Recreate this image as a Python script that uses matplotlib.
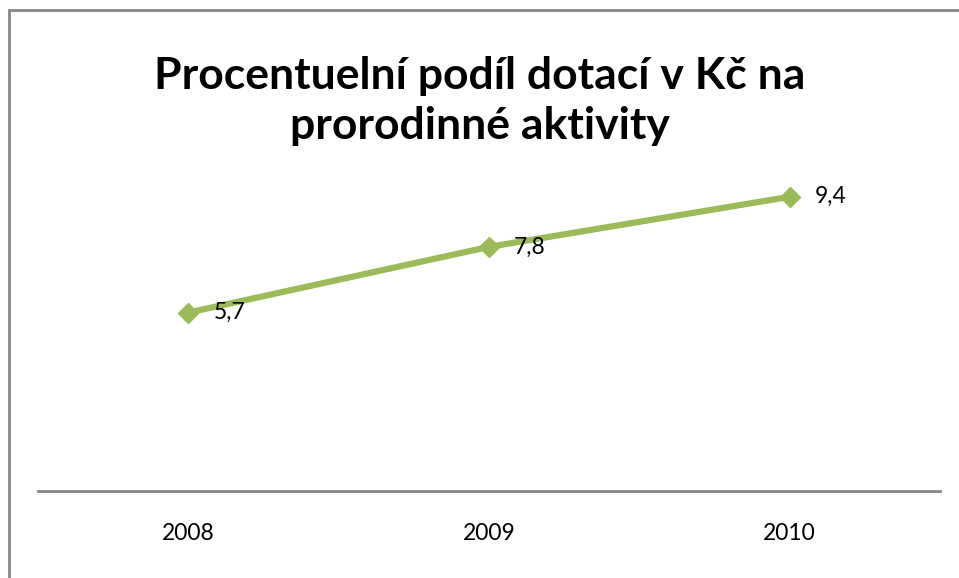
import matplotlib.pyplot as plt
from matplotlib.patches import Rectangle

years = ['2008', '2009', '2010']
podil = [5.7, 7.8, 9.4]
popisky = ['5,7', '7,8', '9,4']

plt.rcParams['font.family'] = ['Lato', 'DejaVu Sans']

fig = plt.figure(figsize=(9.59, 5.78), dpi=100)
ax = fig.add_axes([38/959, 1-491/578, 902/959, 313/578])

x = range(len(years))
ax.plot(x, podil, color='#9BBB59', linewidth=4.5, marker='D', markersize=10,
        solid_capstyle='round')
for xi, v, s in zip(x, podil, popisky):
    ax.annotate(s, (xi, v), xytext=(18, 0), textcoords='offset points',
                ha='left', va='center', fontsize=16.5, color='black')

ax.set_xlim(-0.5, 2.5)
ax.set_ylim(0, 10)
ax.set_xticks(list(x))
ax.set_xticklabels(years, fontsize=16.5)
ax.set_yticks([])
ax.tick_params(axis='x', length=0, pad=23)
for side in ['top', 'right', 'left']:
    ax.spines[side].set_visible(False)
ax.spines['bottom'].set_color('#868686')
ax.spines['bottom'].set_linewidth(2)

fig.text(0.5, 1-101/578, 'Procentuelní podíl dotací v Kč na\nprorodinné aktivity',
         ha='center', va='center', fontsize=32, fontweight='bold',
         linespacing=1.3)

# rámeček grafu
fig.patches.append(Rectangle((9/959, -0.1), 1.2, 1-10/578+0.1,
                             transform=fig.transFigure, fill=False,
                             edgecolor='#868686', linewidth=2))

fig.savefig('out.png', dpi=100)
